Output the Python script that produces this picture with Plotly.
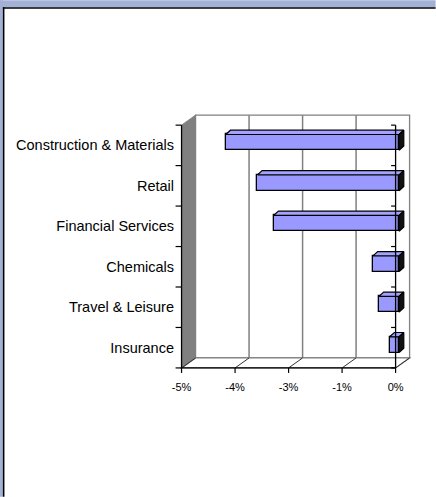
import plotly.graph_objects as go

# ---------------- data ----------------
categories = ["Construction & Materials", "Retail", "Financial Services",
              "Chemicals", "Travel & Leisure", "Insurance"]
values = [-4.05, -3.31, -2.93, -0.61, -0.47, -0.22]
x_tickvals = [-5, -3.75, -2.5, -1.25, 0]
x_ticktext = ["-5%", "-4%", "-3%", "-1%", "0%"]

# ---------------- geometry / style ----------------
W, H = 436, 497
PX_X0 = 182.0      # pixel of x=-5
PX_PER_X = 42.8
PX_Y0 = 368.0      # pixel of y=-0.5 (front floor edge)
PX_PER_Y = 40.5
XMIN, XMAX = -5, 0
XR = [-5.2, 0.36]
YR = [-0.65, 5.8]

def px_x(v):
    return PX_X0 + (v - XMIN) * PX_PER_X

def px_y(v):
    return PX_Y0 - (v + 0.5) * PX_PER_Y

L = px_x(XR[0])
R = W - px_x(XR[1])
T = px_y(YR[1])
B = H - px_y(YR[0])
PW = W - L - R
PH = H - T - B

def ux(p):  # pixels -> x data units
    return p / PX_PER_X

def uy(p):
    return p / PX_PER_Y

DX, DY = ux(14), uy(10)          # wall depth
BX, BY = ux(3.5), uy(3.0)        # bar front offset
BH = uy(15.8)                     # bar thickness
TX, TY = ux(4.7), uy(4.3)        # bar depth

n = len(categories)
ypos = [n - 1 - i for i in range(n)]
YB, YT = -0.5, n - 0.5

GRAY = "#808080"
BAR = "#9999FF"
BAR_TOP = "#A3A3FF"
SIDE = "#111111"
FRAME = "#A4B1D6"

def path(pts):
    return "M " + " L ".join(f"{x},{y}" for x, y in pts) + " Z"

fig = go.Figure()
shapes = []

# left wall
shapes.append(dict(type="path", layer="below",
                   path=path([(XMIN, YB), (XMIN, YT), (XMIN + DX, YT + DY), (XMIN + DX, YB + DY)]),
                   fillcolor=GRAY, line=dict(color=GRAY, width=1)))
# back wall
shapes.append(dict(type="rect", layer="below", x0=XMIN + DX, x1=XMAX + DX, y0=YB + DY, y1=YT + DY,
                   fillcolor="white", line=dict(color=GRAY, width=1.3)))
# floor
shapes.append(dict(type="path", layer="below",
                   path=path([(XMIN, YB), (XMAX, YB), (XMAX + DX, YB + DY), (XMIN + DX, YB + DY)]),
                   fillcolor="white", line=dict(color=GRAY, width=1.3)))
# gridlines on back wall and floor
for tv in x_tickvals[1:-1]:
    shapes.append(dict(type="line", layer="below", x0=tv + DX, x1=tv + DX, y0=YB + DY, y1=YT + DY,
                       line=dict(color=GRAY, width=1.5)))
for tv in x_tickvals:
    shapes.append(dict(type="line", layer="below", x0=tv, x1=tv + DX, y0=YB, y1=YB + DY,
                       line=dict(color="#333333", width=1)))

# front axis lines
shapes.append(dict(type="line", x0=XMIN, x1=XMAX, y0=YB, y1=YB, line=dict(color="black", width=1.3)))
shapes.append(dict(type="line", x0=XMIN, x1=XMIN, y0=YB, y1=YT, line=dict(color="black", width=1.3)))
shapes.append(dict(type="line", x0=XMAX, x1=XMAX, y0=YB, y1=YT, line=dict(color="black", width=1.3)))
# tick marks
for k in range(n + 1):
    yb = YB + k
    shapes.append(dict(type="line", x0=XMIN - ux(6), x1=XMIN, y0=yb, y1=yb, line=dict(color="black", width=1.2)))
    shapes.append(dict(type="line", x0=XMAX - ux(4.5), x1=XMAX, y0=yb, y1=yb, line=dict(color="black", width=1.2)))
for tv in x_tickvals:
    shapes.append(dict(type="line", x0=tv, x1=tv, y0=YB, y1=YB - uy(5), line=dict(color="black", width=1.2)))

# bars: front faces
fig.add_trace(go.Bar(orientation="h", y=[p + BY for p in ypos], x=values, base=BX, width=BH,
                     marker=dict(color=BAR, line=dict(color="black", width=1.3)),
                     hoverinfo="skip", showlegend=False))
# bars: top and side faces
for v, p in zip(values, ypos):
    yc = p + BY
    y0, y1 = yc - BH / 2, yc + BH / 2
    x0, x1 = v + BX, BX
    top = [(x0, y1), (x1, y1), (x1 + TX, y1 + TY), (x0 + TX, y1 + TY), (x0, y1)]
    side = [(x1, y0), (x1, y1), (x1 + TX, y1 + TY), (x1 + TX, y0 + TY), (x1, y0)]
    for pts, col in ((top, BAR_TOP), (side, SIDE)):
        fig.add_trace(go.Scatter(x=[a for a, _ in pts], y=[c for _, c in pts], mode="lines",
                                 fill="toself", fillcolor=col, line=dict(color="black", width=1.2),
                                 hoverinfo="skip", showlegend=False))

# outer frame (paper coords from pixels)
def pxp(px):
    return (px - L) / PW

def pyp(py):
    return (H - B - py) / PH

shapes.append(dict(type="rect", xref="paper", yref="paper", x0=pxp(0), x1=pxp(W), y0=pyp(0), y1=pyp(7),
                   fillcolor=FRAME, line=dict(width=0)))
shapes.append(dict(type="rect", xref="paper", yref="paper", x0=pxp(0), x1=pxp(3.3), y0=pyp(0), y1=pyp(H),
                   fillcolor=FRAME, line=dict(width=0)))
shapes.append(dict(type="line", xref="paper", yref="paper", x0=pxp(3.3), x1=pxp(W), y0=pyp(7.8), y1=pyp(7.8),
                   line=dict(color="black", width=1.6)))
shapes.append(dict(type="line", xref="paper", yref="paper", x0=pxp(4.1), x1=pxp(4.1), y0=pyp(7), y1=pyp(H),
                   line=dict(color="black", width=1.6)))

fig.update_layout(
    width=W, height=H,
    margin=dict(l=L, r=R, t=T, b=B, pad=0),
    paper_bgcolor="white", plot_bgcolor="rgba(0,0,0,0)",
    shapes=shapes, bargap=0,
    font=dict(family="Liberation Sans, Arial, sans-serif", color="black"),
    xaxis=dict(range=XR, tickvals=x_tickvals, ticktext=x_ticktext, ticks="",
               showgrid=False, zeroline=False, showline=False,
               tickfont=dict(size=11), ticklabelstandoff=5, fixedrange=True),
    yaxis=dict(range=YR, tickvals=ypos, ticktext=categories, ticks="",
               showgrid=False, zeroline=False, showline=False,
               tickfont=dict(size=14.5), ticklabelstandoff=-2, ticklabelshift=0, fixedrange=True),
)

fig.write_html("out.html")
